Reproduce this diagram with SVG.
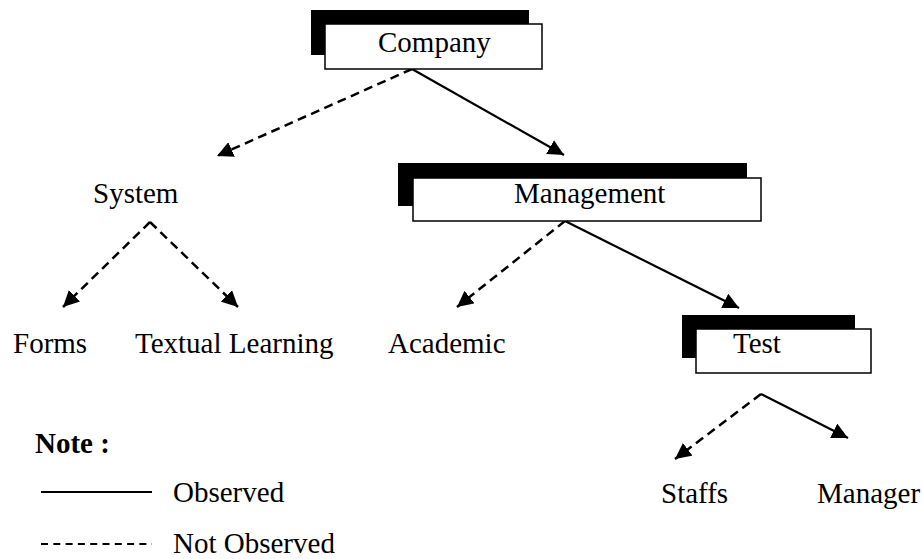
<svg xmlns="http://www.w3.org/2000/svg" width="923" height="559" viewBox="0 0 923 559">
  <style>
    text { font-size: 29px; fill: #000; }
    .shadow { fill: #000; }
    .box { fill: #fff; stroke: #000; stroke-width: 1.5; }
    .solid { stroke: #000; stroke-width: 2.2; fill: none; }
    .dash { stroke: #000; stroke-width: 2.5; fill: none; stroke-dasharray: 9 5.5; }
    .bold { font-weight: bold; }
  </style>
  <defs>
    <marker id="arrow" markerUnits="userSpaceOnUse" markerWidth="17" markerHeight="16" refX="16" refY="8" orient="auto">
      <path d="M0,0 L16,8 L0,16 z" fill="#000"/>
    </marker>
  </defs>

  <rect width="923" height="559" fill="#fff"/>

  <!-- connectors -->
  <g id="connectors">
    <line class="dash" x1="412" y1="69" x2="217" y2="156" marker-end="url(#arrow)"/>
    <line class="solid" x1="412" y1="69" x2="564" y2="155" marker-end="url(#arrow)"/>
    <line class="dash" x1="150" y1="222" x2="63" y2="307" marker-end="url(#arrow)"/>
    <line class="dash" x1="150" y1="222" x2="238" y2="307" marker-end="url(#arrow)"/>
    <line class="dash" x1="565" y1="221" x2="457" y2="307" marker-end="url(#arrow)"/>
    <line class="solid" x1="565" y1="221" x2="739" y2="308" marker-end="url(#arrow)"/>
    <line class="dash" x1="761" y1="394" x2="675" y2="459" marker-end="url(#arrow)"/>
    <line class="solid" x1="761" y1="394" x2="848" y2="438" marker-end="url(#arrow)"/>
  </g>

  <g font-family="'Liberation Serif', 'DejaVu Serif', serif">
    <!-- boxed nodes -->
    <g id="company">
      <rect class="shadow" x="311" y="10" width="218" height="45"/>
      <rect class="box" x="325" y="24" width="217" height="45"/>
      <text x="378" y="52">Company</text>
    </g>
    <g id="management">
      <rect class="shadow" x="398" y="163" width="349" height="43"/>
      <rect class="box" x="413" y="178" width="348" height="43"/>
      <text x="514" y="203">Management</text>
    </g>
    <g id="test">
      <rect class="shadow" x="682" y="315" width="173" height="43"/>
      <rect class="box" x="696" y="329" width="175" height="44"/>
      <text x="733" y="353">Test</text>
    </g>

    <!-- plain label nodes -->
    <g id="system"><text x="93" y="203">System</text></g>
    <g id="forms"><text x="13" y="353">Forms</text></g>
    <g id="textual-learning"><text x="135" y="353">Textual Learning</text></g>
    <g id="academic"><text x="388" y="353">Academic</text></g>
    <g id="staffs"><text x="661" y="503">Staffs</text></g>
    <g id="manager"><text x="817" y="503">Manager</text></g>

    <!-- legend -->
    <g id="legend">
      <text class="bold" x="35" y="453">Note :</text>
      <line x1="41" y1="492" x2="152" y2="492" stroke="#000" stroke-width="2"/>
      <text x="173" y="502">Observed</text>
      <line x1="41" y1="544" x2="152" y2="544" stroke="#000" stroke-width="2" stroke-dasharray="7 5.3"/>
      <text x="173" y="553">Not Observed</text>
    </g>
  </g>
</svg>
